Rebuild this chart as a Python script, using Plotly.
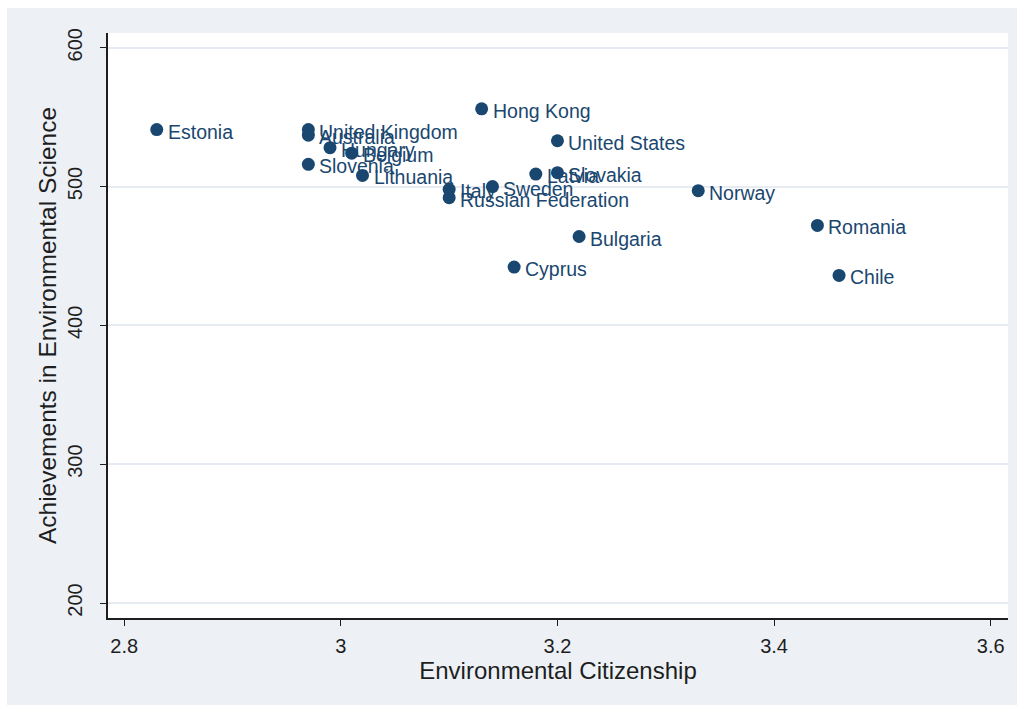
import plotly.graph_objects as go

# Country-level scores
countries = ["Estonia", "United Kingdom", "Australia", "Hungary", "Belgium",
             "Slovenia", "Lithuania", "Italy", "Russian Federation", "Sweden",
             "Latvia", "Slovakia", "Hong Kong", "United States", "Norway",
             "Bulgaria", "Cyprus", "Romania", "Chile"]
citizenship = [2.83, 2.97, 2.97, 2.99, 3.01,
               2.97, 3.02, 3.10, 3.10, 3.14,
               3.18, 3.20, 3.13, 3.20, 3.33,
               3.22, 3.16, 3.44, 3.46]
science = [541, 541, 537, 528, 524,
           516, 508, 498, 492, 500,
           509, 510, 556, 533, 497,
           464, 442, 472, 436]

x_ticks = [2.8, 3.0, 3.2, 3.4, 3.6]
x_tick_text = ["2.8", "3", "3.2", "3.4", "3.6"]
y_ticks = [200, 300, 400, 500, 600]

NAVY = "#1a476f"
BG = "#edf1f6"
INK = "#1e1e1e"
FONT = "Liberation Sans, Arial, sans-serif"

W, H = 1022, 708
ML, MR, MT, MB = 108, 14, 33, 90
PW, PH = W - ML - MR, H - MT - MB


def px_x(px):
    return (px - ML) / PW


def px_y(py):
    return 1 - (py - MT) / PH


fig = go.Figure()
fig.add_trace(go.Scatter(
    x=citizenship, y=science, mode="markers",
    marker=dict(color=NAVY, size=13, line=dict(width=0)),
    hovertext=countries, hoverinfo="text+x+y",
    cliponaxis=False, showlegend=False,
))

# marker labels at 3 o'clock
labels = [dict(x=cx, y=sy, text=name, xref="x", yref="y",
               xanchor="left", yanchor="middle", xshift=9, yshift=-2,
               showarrow=False, font=dict(family=FONT, size=19.5, color=NAVY))
          for name, cx, sy in zip(countries, citizenship, science)]

# thin white frame around the graph region
frame = [
    (px_x(-50), px_y(-50), px_x(7), px_y(H + 50)),
    (px_x(-50), px_y(-50), px_x(W + 50), px_y(8)),
    (px_x(1017), px_y(-50), px_x(W + 50), px_y(H + 50)),
    (px_x(-50), px_y(705), px_x(W + 50), px_y(H + 50)),
]
shapes = [dict(type="rect", xref="paper", yref="paper", x0=a, y0=b, x1=c, y1=d,
               fillcolor="white", line=dict(width=0), layer="above")
          for a, b, c, d in frame]

fig.update_layout(
    width=W, height=H,
    margin=dict(l=ML, r=MR, t=MT, b=MB, pad=0),
    paper_bgcolor=BG, plot_bgcolor="white",
    font=dict(family=FONT, color=INK),
    shapes=shapes, annotations=labels,
    xaxis=dict(
        range=[2.785, 3.616], tickvals=x_ticks, ticktext=x_tick_text,
        showgrid=False, zeroline=False,
        showline=True, linecolor=INK, linewidth=1.5,
        ticks="outside", ticklen=6, tickcolor=INK, tickwidth=1.3,
        ticklabelstandoff=3,
        tickfont=dict(size=20, color=INK),
        title=dict(text="Environmental Citizenship", font=dict(size=24, color=INK), standoff=6),
    ),
    yaxis=dict(
        range=[189.2, 610.6], tickvals=y_ticks, tickangle=-90,
        showgrid=True, gridcolor="#e7ecf3", gridwidth=2, zeroline=False,
        showline=True, linecolor=INK, linewidth=1.5,
        ticks="outside", ticklen=6, tickcolor=INK, tickwidth=1.3,
        ticklabelstandoff=10,
        tickfont=dict(size=20, color=INK),
        title=dict(text="Achievements in Environmental Science", font=dict(size=24.5, color=INK), standoff=1),
    ),
)

fig.write_html("out.html")
